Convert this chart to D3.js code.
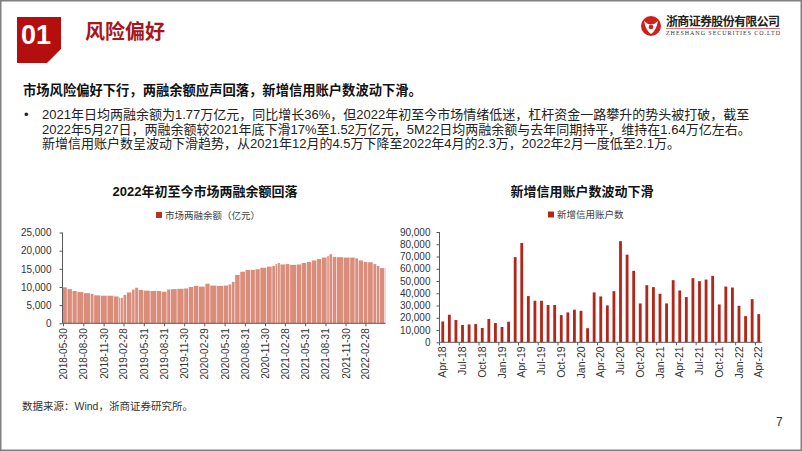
<!DOCTYPE html>
<html><head><meta charset="utf-8">
<script src="https://cdn.jsdelivr.net/npm/d3@7"></script>
<style>
html,body{margin:0;padding:0;background:#fff;}
svg{display:block;}
text{font-family:"Liberation Sans","Noto Sans CJK SC",sans-serif;}
</style></head>
<body><svg id="c" width="802" height="451"></svg>
<script>
// ---------- data ----------
const leftDates = ["2018-05-30","2018-06-19","2018-07-12","2018-08-03","2018-09-02","2018-10-03","2018-10-18","2018-11-17","2018-12-17","2019-01-16","2019-02-08","2019-02-15","2019-02-28","2019-03-15","2019-04-08","2019-04-22","2019-05-08","2019-05-30","2019-06-30","2019-07-30","2019-08-20","2019-09-14","2019-09-30","2019-10-30","2019-11-30","2019-12-21","2020-01-12","2020-02-05","2020-03-05","2020-03-27","2020-04-27","2020-05-27","2020-06-18","2020-07-03","2020-07-18","2020-08-10","2020-09-03","2020-09-27","2020-10-18","2020-11-09","2020-12-09","2021-01-02","2021-01-17","2021-01-27","2021-02-08","2021-03-03","2021-03-24","2021-04-24","2021-05-15","2021-06-08","2021-06-30","2021-07-24","2021-08-15","2021-09-08","2021-09-18","2021-10-03","2021-10-21","2021-11-21","2021-12-21","2022-01-13","2022-01-28","2022-02-20","2022-03-12","2022-04-05","2022-04-21","2022-05-05","2022-05-27"];
const leftValues = [9900,9400,8900,8600,8300,8100,7700,7600,7600,7400,7100,7000,7800,8500,9300,9800,9200,9000,8900,8900,8700,9300,9400,9500,9600,10000,10300,10100,10900,10400,10300,10400,10700,11400,13300,14200,14700,14700,14900,15300,15600,15800,16300,16600,16200,16300,16100,16200,16600,16900,17300,17700,18100,18500,19000,18300,18200,18100,18100,17900,17300,16900,16800,16300,15800,15200,15200];
const leftTickLabels = ["2018-05-30","2018-08-30","2018-11-30","2019-02-28","2019-05-31","2019-08-31","2019-11-30","2020-02-29","2020-05-31","2020-08-31","2020-11-30","2021-02-28","2021-05-31","2021-08-31","2021-11-30","2022-02-28"];
const leftYTicks = [0,5000,10000,15000,20000,25000];

const rightCategories = ["Apr-18","May-18","Jun-18","Jul-18","Aug-18","Sep-18","Oct-18","Nov-18","Dec-18","Jan-19","Feb-19","Mar-19","Apr-19","May-19","Jun-19","Jul-19","Aug-19","Sep-19","Oct-19","Nov-19","Dec-19","Jan-20","Feb-20","Mar-20","Apr-20","May-20","Jun-20","Jul-20","Aug-20","Sep-20","Oct-20","Nov-20","Dec-20","Jan-21","Feb-21","Mar-21","Apr-21","May-21","Jun-21","Jul-21","Aug-21","Sep-21","Oct-21","Nov-21","Dec-21","Jan-22","Feb-22","Mar-22","Apr-22"];
const rightValues = [17000,22500,18200,14100,14600,14900,11700,19000,15700,12500,16800,69500,81000,37700,33900,33900,30400,30400,22200,24400,26600,25700,11500,40700,37400,30100,41700,82500,71500,58300,31700,46600,45000,39600,31700,50700,42300,36900,52300,49900,51200,54200,30900,45500,44700,29800,21400,35200,23000];
const rightTickLabels = ["Apr-18","Jul-18","Oct-18","Jan-19","Apr-19","Jul-19","Oct-19","Jan-20","Apr-20","Jul-20","Oct-20","Jan-21","Apr-21","Jul-21","Oct-21","Jan-22","Apr-22"];
const rightYTicks = [0,10000,20000,30000,40000,50000,60000,70000,80000,90000];

const paraLines = [
 "2021年日均两融余额为1.77万亿元，同比增长36%，但2022年初至今市场情绪低迷，杠杆资金一路攀升的势头被打破，截至",
 "2022年5月27日，两融余额较2021年底下滑17%至1.52万亿元，5M22日均两融余额与去年同期持平，维持在1.64万亿左右。",
 "新增信用账户数呈波动下滑趋势，从2021年12月的4.5万下降至2022年4月的2.3万，2022年2月一度低至2.1万。"
];

// ---------- page ----------
const svg = d3.select("#c");
const fmt = d3.format(",");
const parse = d3.timeParse("%Y-%m-%d");

svg.append("rect").attr("x",0.75).attr("y",0.75).attr("width",800.5).attr("height",449.5)
  .attr("fill","none").attr("stroke","#808080").attr("stroke-width",1.5);

// section badge
svg.append("path").attr("d","M17,17H61V49L47,63H17Z").attr("fill","#B50E0E");
svg.append("text").attr("x",36).attr("y",44).attr("text-anchor","middle")
  .attr("font-size",27).attr("font-weight","bold").attr("fill","#fff").text("01");
svg.append("text").attr("x",85).attr("y",39).attr("font-size",20).attr("font-weight","bold")
  .attr("fill","#A8161A").style("font-family","'Noto Sans CJK SC'").text("风险偏好");

// logo
const lg = svg.append("g");
lg.append("circle").attr("cx",651).attr("cy",26).attr("r",10).attr("fill","#D0201C");
lg.append("path").attr("d","M644,21 Q651,28 658,21 Q656,31 651,34 Q646,31 644,21Z").attr("fill","#fff");
lg.append("circle").attr("cx",651).attr("cy",27).attr("r",2.3).attr("fill","#D0201C");
lg.append("text").attr("x",666).attr("y",25.5).attr("font-size",12).attr("font-weight","bold")
  .attr("fill","#222").attr("textLength",114).style("font-family","'Noto Sans CJK SC'").text("浙商证券股份有限公司");
lg.append("line").attr("x1",666).attr("x2",780).attr("y1",28.5).attr("y2",28.5).attr("stroke","#D65050").attr("stroke-width",0.8);
lg.append("text").attr("x",666).attr("y",35).attr("font-size",6).attr("fill","#333")
  .attr("textLength",114).style("font-family","'Liberation Serif'").text("ZHESHANG SECURITIES CO.LTD");

// heading text
svg.append("text").attr("x",23).attr("y",95).attr("font-size",13.3).attr("font-weight","bold")
  .attr("fill","#111").text("市场风险偏好下行，两融余额应声回落，新增信用账户数波动下滑。");
svg.append("text").attr("x",24).attr("y",119).attr("font-size",13).attr("fill","#222").text("•");
paraLines.forEach((t,i)=>{
  svg.append("text").attr("x",42).attr("y",119+i*14.5).attr("font-size",13).attr("fill","#222").text(t);
});

// ---------- left chart ----------
const L = {x0:62.5, x1:385.5, yTop:232.5, yBot:323.3};
const ldata = leftDates.map((d,i)=>({date:parse(d), v:leftValues[i]}));
const xL = d3.scaleTime().domain([parse("2018-05-30"), parse("2022-05-30")]).range([63, L.x1]);
const yL = d3.scaleLinear().domain([0,25000]).range([L.yBot, L.yTop]);

svg.append("text").attr("x",205).attr("y",196).attr("text-anchor","middle").attr("font-size",13)
  .attr("font-weight","bold").attr("fill","#111").text("2022年初至今市场两融余额回落");
svg.append("rect").attr("x",156).attr("y",212).attr("width",6).attr("height",6).attr("fill","#B5321F");
svg.append("text").attr("x",165).attr("y",218.5).attr("font-size",9.5).attr("fill","#404040").text("市场两融余额（亿元）");

const gL = svg.append("g");
gL.selectAll("rect.b").data(ldata).join("rect").attr("class","b")
  .attr("x",d=>xL(d.date))
  .attr("width",(d,i)=>{const nx = i<ldata.length-1 ? xL(ldata[i+1].date) : L.x1; return Math.max(0.5,nx-xL(d.date)-0.6);})
  .attr("y",d=>yL(d.v)).attr("height",d=>L.yBot-yL(d.v))
  .attr("fill","#DB8D7B");

const yAxL = d3.axisLeft(yL).tickValues(leftYTicks).tickFormat(fmt).tickSize(3).tickPadding(8);
const gyl = svg.append("g").attr("transform",`translate(${L.x0},0)`).call(yAxL);
gyl.select(".domain").attr("stroke","#595959").attr("d",`M0,${L.yTop}V${L.yBot}`);
gyl.selectAll(".tick line").attr("stroke","#595959");
gyl.selectAll("text").attr("font-size",10).attr("fill","#333").style("font-family","'Liberation Sans'");

const xAxL = d3.axisBottom(xL).tickValues(leftTickLabels.map(parse)).tickFormat(d3.timeFormat("%Y-%m-%d")).tickSize(3);
const gxl = svg.append("g").attr("transform",`translate(0,${L.yBot})`).call(xAxL);
gxl.select(".domain").attr("stroke","#595959").attr("d",`M${L.x0},0H${L.x1}`);
gxl.selectAll(".tick line").attr("stroke","#595959");
gxl.selectAll("text").attr("font-size",10).attr("fill","#333").style("font-family","'Liberation Sans'")
  .attr("text-anchor","end").attr("transform","rotate(-90)").attr("x",-5).attr("y",0).attr("dy","0.35em");

// ---------- right chart ----------
const R = {x0:439.5, x1:762, yTop:232, yBot:342.3};
const xR = d3.scaleBand().domain(rightCategories).range([R.x0,R.x1]).paddingInner(0.57).paddingOuter(0.28);
const xRb = d3.scaleBand().domain(rightCategories).range([R.x0,R.x1]);
const yR = d3.scaleLinear().domain([0,90000]).range([R.yBot,R.yTop]);

svg.append("text").attr("x",582).attr("y",196).attr("text-anchor","middle").attr("font-size",13)
  .attr("font-weight","bold").attr("fill","#111").text("新增信用账户数波动下滑");
svg.append("rect").attr("x",548).attr("y",211.5).attr("width",6).attr("height",6).attr("fill","#B5261A");
svg.append("text").attr("x",557).attr("y",218).attr("font-size",9.5).attr("fill","#404040").text("新增信用账户数");

svg.append("g").selectAll("rect").data(rightValues).join("rect")
  .attr("x",(d,i)=>xR(rightCategories[i])).attr("width",xR.bandwidth())
  .attr("y",d=>yR(d)).attr("height",d=>R.yBot-yR(d)).attr("fill","#B5261A");

const yAxR = d3.axisLeft(yR).tickValues(rightYTicks).tickFormat(fmt).tickSize(3).tickPadding(6);
const gyr = svg.append("g").attr("transform",`translate(${R.x0},0)`).call(yAxR);
gyr.select(".domain").attr("stroke","#595959").attr("d",`M0,${R.yTop}V${R.yBot}`);
gyr.selectAll(".tick line").attr("stroke","#595959");
gyr.selectAll("text").attr("font-size",10).attr("fill","#333").style("font-family","'Liberation Sans'");

const gxr = svg.append("g").attr("transform",`translate(0,${R.yBot})`);
gxr.append("path").attr("d",`M${R.x0},0H${R.x1}`).attr("stroke","#595959").attr("fill","none");
gxr.selectAll("line").data(rightTickLabels).join("line")
  .attr("x1",d=>xRb(d)).attr("x2",d=>xRb(d)).attr("y1",0).attr("y2",3).attr("stroke","#595959");
gxr.selectAll("text").data(rightTickLabels).join("text")
  .attr("transform",d=>`translate(${xRb(d)+xRb.bandwidth()/2},4) rotate(-90)`)
  .attr("text-anchor","end").attr("dy","0.35em").attr("font-size",10.5).attr("fill","#333")
  .style("font-family","'Liberation Sans'").text(d=>d);

// footer
svg.append("text").attr("x",22).attr("y",410).attr("font-size",10.5).attr("fill","#333").text("数据来源：Wind，浙商证券研究所。");
svg.append("text").attr("x",776).attr("y",426).attr("font-size",12).attr("fill","#333").text("7");
</script></body></html>
